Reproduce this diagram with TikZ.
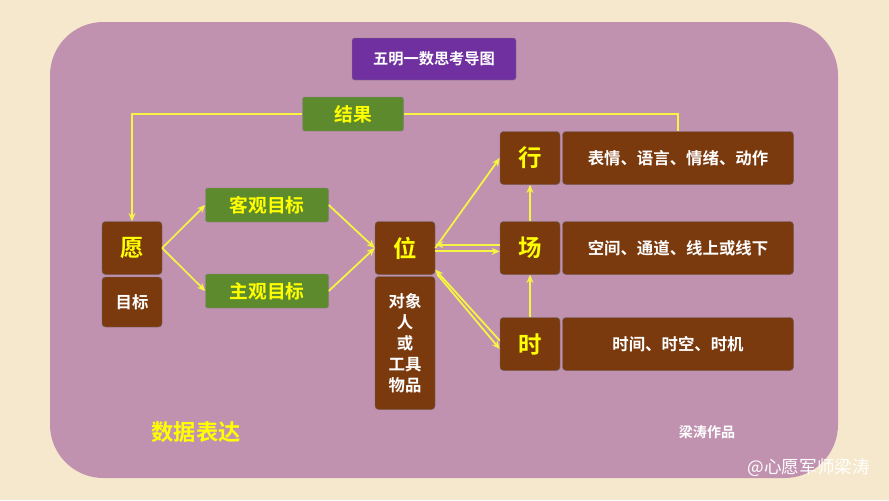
\documentclass[tikz,border=0pt]{standalone}
\usepackage{fontspec}
\newfontfamily\cjk{Noto Sans CJK SC}[BoldFont={Noto Sans CJK SC Bold}]
\usetikzlibrary{positioning,arrows.meta}
\definecolor{bgpaper}{HTML}{F6E8CC}
\definecolor{panel}{HTML}{C092B0}
\definecolor{brownbox}{HTML}{7B3A0E}
\definecolor{greenbox}{HTML}{5E8A2E}
\definecolor{titlebox}{HTML}{7030A0}
\definecolor{arrowyel}{HTML}{F5F542}
\definecolor{textyel}{HTML}{FFFF00}
\tikzset{
  brown/.style={draw=black!60, fill=brownbox, rounded corners=3pt, text=white, font=\cjk\bfseries\fontsize{14}{16}\selectfont},
  bigword/.style={brown, minimum width=60*0.03cm, minimum height=53*0.03cm, text=textyel, font=\cjk\bfseries\fontsize{20}{22}\selectfont},
  green/.style={draw=black!50, fill=greenbox, rounded corners=2pt, text=textyel, minimum width=123*0.03cm, minimum height=34*0.03cm, font=\cjk\bfseries\fontsize{16}{18}\selectfont},
  wide/.style={brown, minimum width=231*0.03cm, minimum height=53*0.03cm},
  link/.style={draw=arrowyel, line width=1.5pt, -{Stealth[length=7pt,width=6pt]}}
}
\begin{document}
\begin{tikzpicture}[x=0.03cm,y=-0.03cm]
\fill[bgpaper] (0,0) rectangle (889,500);
\fill[panel, rounded corners=1.6cm] (50,22) rectangle (838,478);
\node[fill=titlebox, draw=black!50, rounded corners=2pt, text=white, minimum width=164*0.03cm, minimum height=42*0.03cm, font=\cjk\bfseries\fontsize{13}{15}\selectfont] (title) at (434,59) {五明一数思考导图};
\node[green, minimum width=101*0.03cm] (result) at (353,114) {结果};
% left column
\node[bigword] (yuan) at (132,248) {愿};
\node[brown, minimum width=60*0.03cm, minimum height=50*0.03cm] (goal) at (132,302) {目标};
\node[green] (objgoal) at (267,205) {客观目标};
\node[green] (subgoal) at (267,291) {主观目标};
% middle
\node[bigword] (wei) at (405,248) {位};
\node[brown, minimum width=60*0.03cm, minimum height=133*0.03cm, align=center, font=\cjk\bfseries\fontsize{14}{18}\selectfont] (object) at (405,343) {对象\\人\\或\\工具\\物品};
% right
\node[bigword] (xing) at (530,158) {行};
\node[bigword] (chang) at (530,248) {场};
\node[bigword] (shi) at (530,344) {时};
\node[wide] (xingtxt) at (678,158) {表情、语言、情绪、动作};
\node[wide] (changtxt) at (678,248) {空间、通道、线上或线下};
\node[wide] (shitxt) at (678,344) {时间、时空、时机};
% texts
\node[text=textyel, font=\cjk\bfseries\fontsize{19}{21}\selectfont] (data) at (196,432) {数据表达};
\node[text=white, font=\cjk\bfseries\fontsize{12}{14}\selectfont] (author) at (707,432) {梁涛作品};
\node[text=white, font=\cjk\fontsize{15}{17}\selectfont, anchor=east] (mark) at (874,468) {@心愿军师梁涛};
% connectors
\draw[link] (result.west) -| (yuan.north);
\draw[draw=arrowyel, line width=1.5pt] (result.east) -| (xingtxt.north);
\draw[link] (yuan.east) -- (objgoal.west);
\draw[link] (yuan.east) -- (subgoal.west);
\draw[link] (objgoal.east) -- (wei.west);
\draw[link] (subgoal.east) -- (wei.west);
\draw[link] (wei.east) -- (xing.west);
\draw[link] ([yshift=-0.1cm]wei.east) -- ([yshift=-0.1cm]chang.west);
\draw[link] ([yshift=0.1cm]chang.west) -- ([yshift=0.1cm]wei.east);
\draw[link] ([xshift=2pt]wei.south east) -- ([yshift=-0.15cm]shi.west);
\draw[link] ([yshift=0.1cm]shi.west) -- ([yshift=0.2cm]object.north east);
\draw[link] (shi.north) -- (chang.south);
\draw[link] (chang.north) -- (xing.south);
\end{tikzpicture}
\end{document}
